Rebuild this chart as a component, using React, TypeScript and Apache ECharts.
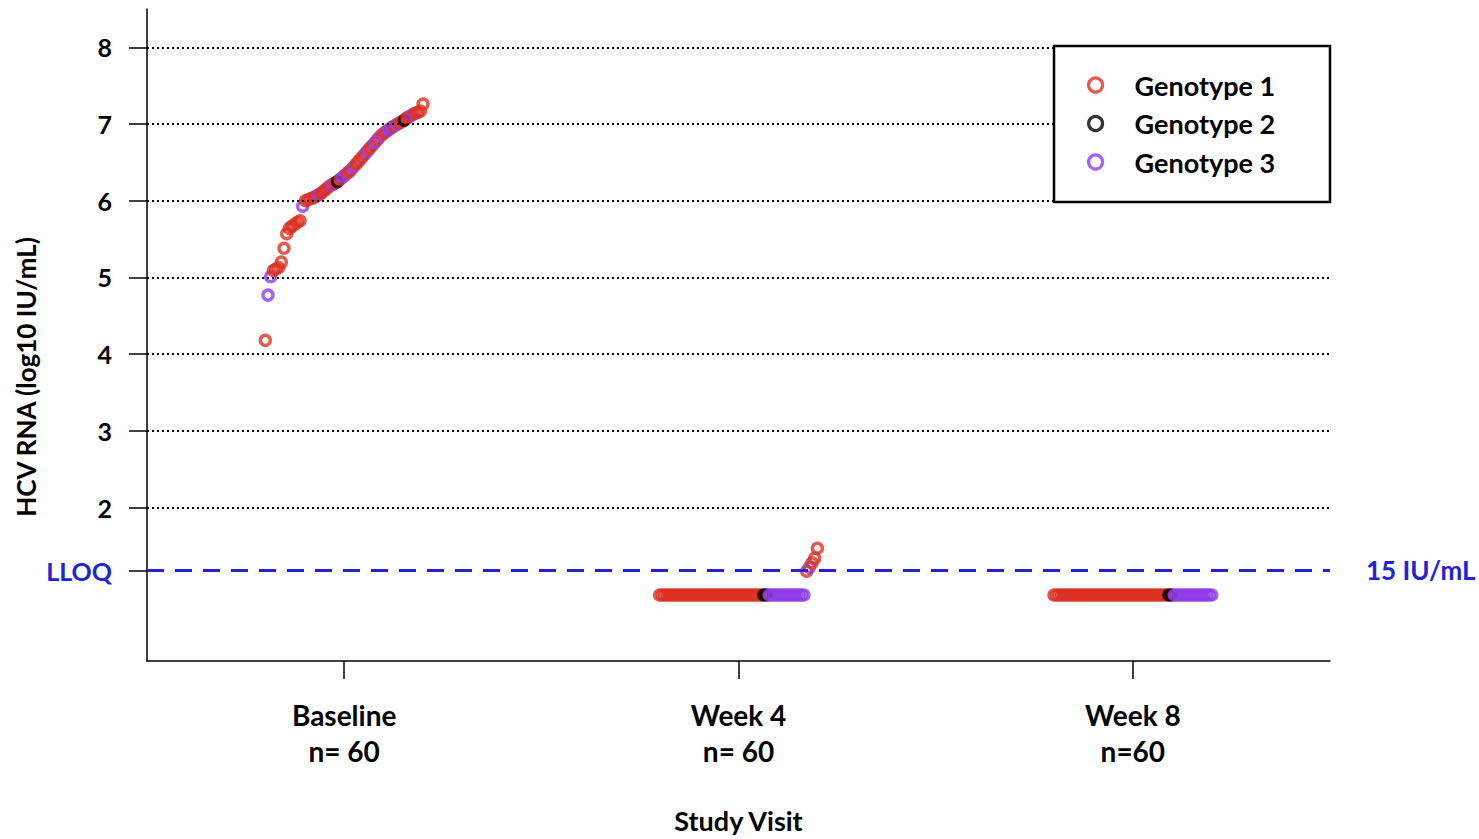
import React, { useEffect, useRef } from "react";
import * as echarts from "echarts";

// ---- data ----
const categories = ["Baseline", "Week 4", "Week 8"];
const sampleSizes = ["n= 60", "n= 60", "n=60"];
const visitPositions = [1, 2, 3];
const genotypeNames = ["Genotype 1", "Genotype 2", "Genotype 3"];
const genotypeColors = ["#DC3022", "#000000", "#8E3BE8"];
const yTicks = [2, 3, 4, 5, 6, 7, 8];
const LLOQ = 1.176; // log10(15 IU/mL)
const lloqLabel = "15 IU/mL";
const BLQ = 0.86; // plotted position for results below LLOQ

const baselineValues = [
  4.18, 4.77, 5.01, 5.09, 5.11, 5.13, 5.2, 5.38, 5.57, 5.64,
  5.67, 5.69, 5.72, 5.74, 5.93, 6.0, 6.01, 6.03, 6.04, 6.06,
  6.08, 6.1, 6.13, 6.16, 6.19, 6.21, 6.23, 6.25, 6.28, 6.31,
  6.34, 6.37, 6.4, 6.44, 6.48, 6.52, 6.56, 6.6, 6.64, 6.68,
  6.72, 6.76, 6.8, 6.84, 6.87, 6.9, 6.92, 6.95, 6.97, 6.99,
  7.01, 7.03, 7.05, 7.08, 7.1, 7.12, 7.14, 7.15, 7.17, 7.26,
];
const baselineGenotype = [
  1, 3, 3, 1, 1, 1, 1, 1, 1, 1,
  1, 1, 1, 1, 3, 1, 1, 1, 1, 1,
  3, 1, 1, 1, 1, 3, 1, 2, 1, 3,
  3, 1, 1, 3, 1, 1, 1, 1, 3, 1,
  1, 3, 1, 3, 1, 1, 3, 3, 1, 3,
  1, 1, 2, 1, 1, 3, 1, 1, 1, 1,
];

const week4Values = [
  BLQ, BLQ, BLQ, BLQ, BLQ, BLQ, BLQ, BLQ, BLQ, BLQ,
  BLQ, BLQ, BLQ, BLQ, BLQ, BLQ, BLQ, BLQ, BLQ, BLQ,
  BLQ, BLQ, BLQ, BLQ, BLQ, BLQ, BLQ, BLQ, BLQ, BLQ,
  BLQ, BLQ, BLQ, BLQ, BLQ, BLQ, BLQ, BLQ, BLQ, BLQ,
  BLQ, BLQ, BLQ, BLQ, BLQ, BLQ, BLQ, BLQ, BLQ, BLQ,
  BLQ, BLQ, BLQ, BLQ, BLQ, 1.17, 1.22, 1.28, 1.34, 1.47,
];
const week4Genotype = [
  1, 1, 1, 1, 1, 1, 1, 1, 1, 1,
  1, 1, 1, 1, 1, 1, 1, 1, 1, 1,
  1, 1, 1, 1, 1, 1, 1, 1, 1, 1,
  1, 1, 1, 1, 1, 1, 1, 1, 1, 2,
  2, 3, 3, 3, 3, 3, 3, 3, 3, 3,
  3, 3, 3, 3, 3, 1, 3, 1, 1, 1,
];

const week8Values = [
  BLQ, BLQ, BLQ, BLQ, BLQ, BLQ, BLQ, BLQ, BLQ, BLQ,
  BLQ, BLQ, BLQ, BLQ, BLQ, BLQ, BLQ, BLQ, BLQ, BLQ,
  BLQ, BLQ, BLQ, BLQ, BLQ, BLQ, BLQ, BLQ, BLQ, BLQ,
  BLQ, BLQ, BLQ, BLQ, BLQ, BLQ, BLQ, BLQ, BLQ, BLQ,
  BLQ, BLQ, BLQ, BLQ, BLQ, BLQ, BLQ, BLQ, BLQ, BLQ,
  BLQ, BLQ, BLQ, BLQ, BLQ, BLQ, BLQ, BLQ, BLQ, BLQ,
];
const week8Genotype = [
  1, 1, 1, 1, 1, 1, 1, 1, 1, 1,
  1, 1, 1, 1, 1, 1, 1, 1, 1, 1,
  1, 1, 1, 1, 1, 1, 1, 1, 1, 1,
  1, 1, 1, 1, 1, 1, 1, 1, 1, 1,
  1, 1, 1, 2, 2, 3, 3, 3, 3, 3,
  3, 3, 3, 3, 3, 3, 3, 3, 3, 3,
];

const FONT = "Lato, 'Open Sans', sans-serif";
const BLUE = "#2222D8";

// Split each visit into consecutive runs of one genotype so points are drawn in plotting order.
function buildRuns(): { g: number; pts: number[][] }[] {
  const runs: { g: number; pts: number[][] }[] = [];
  const visits: [number[], number[]][] = [
    [baselineValues, baselineGenotype],
    [week4Values, week4Genotype],
    [week8Values, week8Genotype],
  ];
  visits.forEach(([vals, genos], vi) => {
    const n = vals.length;
    vals.forEach((v, i) => {
      const x = visitPositions[vi] - 0.2 + (0.4 * i) / (n - 1);
      const g = genos[i] - 1;
      const last = runs[runs.length - 1];
      if (last && last.g === g && i > 0) last.pts.push([x, v]);
      else runs.push({ g, pts: [[x, v]] });
    });
  });
  return runs;
}

export default function App() {
  const ref = useRef<HTMLDivElement>(null);
  useEffect(() => {
    if (!ref.current) return;
    const chart = echarts.init(ref.current, null, { renderer: "svg" });
    const runs = buildRuns();
    const xLabels = categories.map((c, i) => `${c}\n${sampleSizes[i]}`);

    const markLine = {
      silent: true,
      symbol: ["none", "none"],
      animation: false,
      data: [
        ...yTicks.map((v) => ({
          yAxis: v,
          lineStyle: { type: [2, 3], color: "#000", width: 2.2 },
          label: { show: false },
        })),
        {
          yAxis: LLOQ,
          lineStyle: { type: [17, 11], color: BLUE, width: 3 },
          label: {
            show: true,
            position: "end",
            distance: 36,
            formatter: lloqLabel,
            color: BLUE,
            fontFamily: FONT,
            fontWeight: "bold",
            fontSize: 26,
          },
        },
      ],
    };

    const series: any[] = [
      ...genotypeNames.map((name, gi) => ({
        name,
        type: "scatter",
        symbol: "circle",
        symbolSize: 10,
        itemStyle: { color: "rgba(0,0,0,0)", borderColor: genotypeColors[gi], borderWidth: 3.5 },
        data: [],
        markLine: gi === 0 ? markLine : undefined,
      })),
      ...runs.map((r) => ({
        name: genotypeNames[r.g],
        type: "scatter",
        xAxisIndex: 0,
        yAxisIndex: 0,
        symbol: "circle",
        symbolSize: 10,
        itemStyle: { color: "rgba(0,0,0,0)", borderColor: genotypeColors[r.g], borderWidth: 3.4 },
        data: r.pts,
        silent: true,
      })),
    ];

    const option: any = {
      animation: false,
      backgroundColor: "#ffffff",
      grid: { left: 147, right: 149, top: 9, bottom: 173, containLabel: false },
      xAxis: [
        { type: "value", min: 0.5, max: 3.5, show: false },
        {
          type: "category",
          data: xLabels,
          boundaryGap: true,
          position: "bottom",
          axisLine: { show: true, onZero: false, lineStyle: { color: "#000", width: 1.5 } },
          axisTick: { show: true, alignWithLabel: true, length: 18, lineStyle: { color: "#000", width: 1.5 } },
          axisLabel: {
            margin: 36,
            fontFamily: FONT,
            fontWeight: "bold",
            fontSize: 28,
            lineHeight: 36,
            color: "#000",
          },
          splitLine: { show: false },
          name: "Study Visit",
          nameLocation: "middle",
          nameGap: 146,
          nameTextStyle: { fontFamily: FONT, fontWeight: "bold", fontSize: 27, color: "#000", lineHeight: 27 },
        },
      ],
      yAxis: {
        type: "value",
        min: 0,
        max: 8.5,
        axisLine: { show: true, lineStyle: { color: "#000", width: 1.5 } },
        axisTick: {
          show: true,
          length: 18,
          customValues: [LLOQ, ...yTicks],
          lineStyle: { color: "#000", width: 1.5 },
        },
        axisLabel: {
          customValues: [LLOQ, ...yTicks],
          margin: 35,
          fontFamily: FONT,
          fontWeight: "bold",
          fontSize: 25,
          color: "#000",
          formatter: (v: number) => (Math.abs(v - LLOQ) < 1e-6 ? "{q|LLOQ}" : String(v)),
          rich: { q: { color: BLUE, fontFamily: FONT, fontWeight: "bold", fontSize: 25 } },
        },
        splitLine: { show: false },
      },
      legend: {
        show: true,
        orient: "vertical",
        left: 1087,
        top: 70,
        padding: 0,
        itemWidth: 14,
        itemHeight: 14,
        itemGap: 8.5,
        z: 120,
        data: genotypeNames.map((name, i) => ({
          name,
          itemStyle: { color: "rgba(0,0,0,0)", borderColor: genotypeColors[i], borderWidth: 3.2 },
        })),
        textStyle: {
          fontFamily: FONT,
          fontWeight: "bold",
          fontSize: 27,
          color: "#000",
          lineHeight: 30,
          padding: [0, 0, 0, 27],
        },
      },
      graphic: [
        {
          type: "rect",
          z: 110,
          shape: { x: 1054, y: 46, width: 276, height: 156 },
          style: { fill: "#fff", stroke: "#000", lineWidth: 2.5 },
        },
        {
          type: "text",
          x: 26,
          y: 377,
          rotation: Math.PI / 2,
          style: {
            text: "HCV RNA (log10 IU/mL)",
            fill: "#000",
            font: `bold 26px ${FONT}`,
            align: "center",
            verticalAlign: "middle",
          },
        },
      ],
      series,
    };
    chart.setOption(option);
    return () => chart.dispose();
  }, []);
  return (
    <div
      ref={ref}
      style={{ position: "fixed", left: 0, top: 0, width: 1479, height: 839, background: "#fff" }}
    />
  );
}
